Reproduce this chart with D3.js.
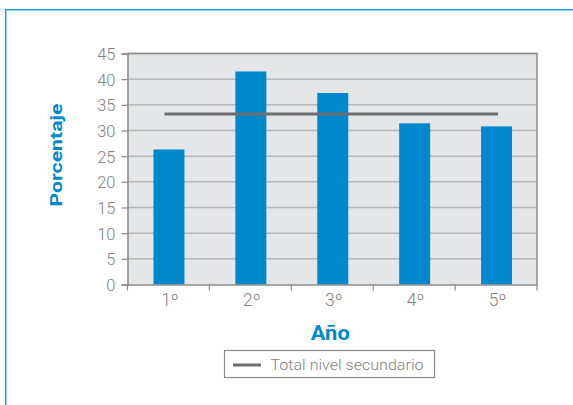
<!DOCTYPE html>
<html><head><meta charset="utf-8">
<script src="https://cdn.jsdelivr.net/npm/d3@7"></script>
<style>body{margin:0;background:#fff;}svg{display:block;}</style>
</head><body>
<svg id="c" width="573" height="405"></svg>
<script>
const categories = ["1º","2º","3º","4º","5º"];
const values = [26.3, 41.5, 37.3, 31.4, 30.8];
const totalSecundario = 33.2;
const yTicks = [0,5,10,15,20,25,30,35,40,45];
const legendLabel = "Total nivel secundario";
const xTitle = "Año";
const yTitle = "Porcentaje";

const svg = d3.select("#c");
const m = {l:127.5, r:537, t:53.5, b:284.5};
const x = d3.scaleBand().domain(categories).range([m.l, m.r]);
const y = d3.scaleLinear().domain([0,45]).range([m.b, m.t]);
const font = "Roboto, 'Liberation Sans', sans-serif";

// outer frame
svg.append("rect").attr("x",5.75).attr("y",9.75).attr("width",620).attr("height",500)
  .attr("fill","none").attr("stroke","#1a9fe0").attr("stroke-width",1.5);

// plot background
svg.append("rect").attr("x",m.l).attr("y",m.t).attr("width",m.r-m.l).attr("height",m.b-m.t)
  .attr("fill","#e5e6e8");

// gridlines
svg.append("g").selectAll("line").data(yTicks.filter(d=>d>0)).join("line")
  .attr("x1",m.l).attr("x2",m.r).attr("y1",d=>y(d)).attr("y2",d=>y(d))
  .attr("stroke","#b4b5b7").attr("stroke-width",1.5);

// bars
const bw = x.bandwidth()*0.378;
svg.append("g").selectAll("rect").data(values).join("rect")
  .attr("x",(d,i)=>x(categories[i])+x.bandwidth()/2-bw/2+0.5)
  .attr("width",bw)
  .attr("y",d=>y(d)).attr("height",d=>y(0)-y(d))
  .attr("fill","#0088cf");

// total line
svg.append("line")
  .attr("x1",x(categories[0])+x.bandwidth()/2-4)
  .attr("x2",x(categories[categories.length-1])+x.bandwidth()/2+2)
  .attr("y1",y(totalSecundario)).attr("y2",y(totalSecundario))
  .attr("stroke","#6e6e6e").attr("stroke-width",3);

// plot frame (top/right)
svg.append("path").attr("d",`M${m.l},${m.t}H${m.r}V${m.b}`).attr("fill","none")
  .attr("stroke","#8a8a8a").attr("stroke-width",1.5);

// y axis
const ya = svg.append("g").attr("transform",`translate(${m.l},0)`)
  .call(d3.axisLeft(y).tickValues(yTicks).tickSize(6).tickPadding(6));
ya.select(".domain").attr("stroke","#8a8a8a").attr("stroke-width",1.5);
ya.selectAll(".tick line").attr("stroke","#8a8a8a").attr("stroke-width",1.2);
ya.selectAll("text").attr("fill","#7f7f7f").attr("dy","0.36em").style("font-family",font).style("font-size","16.5px").style("font-weight",300);

// x axis
const xa = svg.append("g").attr("transform",`translate(0,${m.b})`)
  .call(d3.axisBottom(x).tickSize(0));
xa.select(".domain").attr("stroke","#8a8a8a").attr("stroke-width",1.5);
xa.selectAll("text").attr("fill","#7f7f7f").attr("y",21.5).attr("dy",0).attr("dx",1.5)
  .style("font-family",font).style("font-size","17.5px").style("font-weight",300);
// ticks at band boundaries
const bounds = categories.map(c=>x(c)).concat([m.r]);
svg.append("g").selectAll("line").data(bounds).join("line")
  .attr("x1",d=>d).attr("x2",d=>d).attr("y1",m.b).attr("y2",m.b+6)
  .attr("stroke","#8a8a8a").attr("stroke-width",1.2);

// titles
svg.append("text").attr("x",(m.l+m.r)/2-2).attr("y",340).attr("text-anchor","middle")
  .attr("textLength",39).attr("lengthAdjust","spacingAndGlyphs")
  .attr("fill","#0088cf").style("font-family",font).style("font-weight",700).style("font-size","20px").text(xTitle);
svg.append("text").attr("transform",`translate(62,155) rotate(-90)`).attr("text-anchor","middle")
  .attr("textLength",103).attr("lengthAdjust","spacingAndGlyphs")
  .attr("fill","#0088cf").style("font-family",font).style("font-weight",700).style("font-size","17px").text(yTitle);

// legend
const lg = svg.append("g");
lg.append("rect").attr("x",224.5).attr("y",350.5).attr("width",210).attr("height",27)
  .attr("fill","#fff").attr("stroke","#8a8a8a").attr("stroke-width",1.2);
lg.append("line").attr("x1",233).attr("x2",261).attr("y1",365).attr("y2",365)
  .attr("stroke","#6e6e6e").attr("stroke-width",3);
lg.append("text").attr("x",270.5).attr("y",369.5).attr("fill","#7f7f7f")
  .attr("textLength",153).attr("lengthAdjust","spacingAndGlyphs")
  .style("font-family",font).style("font-size","15px").style("font-weight",300).text(legendLabel);
</script>
</body></html>
